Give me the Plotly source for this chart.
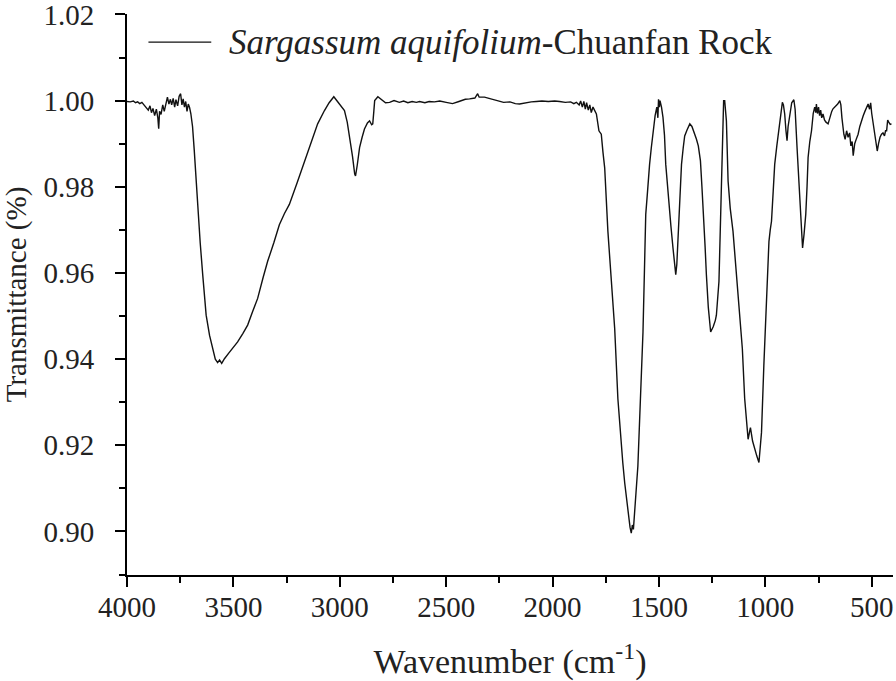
"""
FTIR spectrum of Sargassum aquifolium (Chuanfan Rock)
"""

import plotly.graph_objs as go

# wavenumber (cm-1)
wavenumber = [
    4000, 3985, 3970, 3960, 3950, 3940, 3930, 3920, 3910, 3900, 3892, 3885, 3878, 3870, 3862,
    3855, 3851, 3847, 3840, 3832, 3825, 3818, 3810, 3803, 3796, 3790, 3783, 3776, 3770, 3762,
    3755, 3748, 3742, 3736, 3730, 3724, 3718, 3712, 3706, 3700, 3692, 3684, 3676, 3668, 3656,
    3644, 3636, 3628, 3612, 3597, 3585, 3574, 3565, 3555, 3542, 3520, 3500, 3480, 3455, 3433,
    3410, 3386, 3360, 3339, 3310, 3284, 3260, 3237, 3200, 3166, 3135, 3104, 3072, 3050, 3028,
    3005, 2978, 2965, 2955, 2940, 2930, 2926, 2918, 2907, 2895, 2884, 2870, 2860, 2850, 2845,
    2840, 2836, 2821, 2800, 2785, 2766, 2745, 2720, 2700, 2680, 2660, 2640, 2625, 2600, 2580,
    2555, 2530, 2500, 2470, 2440, 2410, 2390, 2365, 2352, 2345, 2320, 2300, 2281, 2260, 2230,
    2200, 2175, 2155, 2130, 2100, 2076, 2050, 2020, 1990, 1967, 1940, 1915, 1900, 1888, 1875,
    1868, 1860, 1853, 1846, 1840, 1832, 1825, 1818, 1810, 1802, 1794, 1782, 1771, 1763, 1755,
    1740, 1724, 1708, 1693, 1685, 1677, 1670, 1661, 1654, 1646, 1640, 1636, 1630, 1625, 1620,
    1614, 1606, 1599, 1587, 1575, 1568, 1562, 1555, 1548, 1544, 1536, 1528, 1518, 1510, 1505,
    1502, 1498, 1495, 1488, 1481, 1474, 1468, 1460, 1453, 1444, 1434, 1428, 1421, 1416, 1410,
    1402, 1394, 1386, 1379, 1368, 1355, 1345, 1335, 1324, 1315, 1305, 1298, 1290, 1283, 1277,
    1268, 1257, 1245, 1235, 1230, 1218, 1212, 1206, 1200, 1196, 1191, 1186, 1183, 1175, 1165,
    1152, 1140, 1128, 1118, 1108, 1097, 1090, 1081, 1074, 1070, 1060, 1050, 1040, 1030, 1024,
    1018, 1007, 995, 983, 977, 971, 963, 956, 946, 936, 928, 920, 915, 909, 903,
    898, 893, 885, 876, 866, 860, 851, 844, 838, 831, 825, 818, 810, 804, 799,
    791, 783, 775, 768, 763, 760, 755, 750, 745, 740, 735, 729, 722, 715, 705,
    695, 688, 682, 672, 660, 650, 645, 640, 636, 631, 625, 618, 611, 604, 598,
    592, 587, 580, 573, 564, 556, 548, 540, 532, 525, 517, 510, 505, 500, 495,
    490, 485, 480, 474, 468, 461, 454, 447, 440, 435, 430, 425, 420, 413, 407,
]

transmittance = [
    0.9998, 0.9997, 0.9999, 0.9995, 0.9997, 0.9993, 0.9996, 0.9990, 0.9985, 0.9978, 0.9988, 0.9972, 0.9982, 0.9965, 0.9980,
    0.9960, 0.9935, 0.9975, 0.9968, 0.9990, 0.9975, 0.9995, 1.0008, 0.9992, 1.0003, 0.9990, 1.0005, 0.9985, 1.0002, 0.9988,
    1.0010, 1.0016, 0.9990, 1.0004, 0.9985, 0.9998, 0.9975, 0.9992, 0.9984, 0.9970, 0.9940, 0.9885, 0.9820, 0.9751, 0.9670,
    0.9595, 0.9545, 0.9502, 0.9455, 0.9424, 0.9400, 0.9392, 0.9398, 0.9390, 0.9401, 0.9415, 0.9428, 0.9440, 0.9460, 0.9479,
    0.9510, 0.9541, 0.9590, 0.9627, 0.9670, 0.9712, 0.9738, 0.9759, 0.9810, 0.9860, 0.9905, 0.9946, 0.9977, 0.9995, 1.0009,
    0.9995, 0.9977, 0.9950, 0.9922, 0.9870, 0.9830, 0.9825, 0.9850, 0.9891, 0.9915, 0.9934, 0.9948, 0.9953, 0.9944, 0.9946,
    0.9975, 1.0000, 1.0009, 1.0002, 0.9995, 0.9996, 1.0000, 0.9996, 0.9999, 0.9995, 0.9998, 0.9996, 0.9998, 0.9995, 0.9998,
    0.9997, 0.9999, 0.9996, 0.9993, 0.9998, 1.0003, 1.0004, 1.0006, 1.0016, 1.0008, 1.0008, 1.0005, 1.0003, 0.9999, 0.9996,
    0.9997, 0.9993, 0.9992, 0.9995, 0.9997, 0.9998, 0.9999, 0.9998, 0.9999, 0.9998, 0.9996, 0.9997, 0.9993, 0.9996, 0.9990,
    0.9999, 0.9985, 0.9998, 0.9980, 0.9995, 0.9978, 0.9990, 0.9972, 0.9985, 0.9975, 0.9969, 0.9930, 0.9922, 0.9880, 0.9844,
    0.9697, 0.9580, 0.9471, 0.9308, 0.9250, 0.9191, 0.9160, 0.9113, 0.9080, 0.9051, 0.9030, 0.9010, 0.8996, 0.9015, 0.9005,
    0.9043, 0.9100, 0.9152, 0.9308, 0.9463, 0.9610, 0.9736, 0.9780, 0.9830, 0.9852, 0.9890, 0.9930, 0.9965, 0.9985, 0.9960,
    1.0003, 0.9985, 1.0000, 0.9985, 0.9961, 0.9920, 0.9852, 0.9800, 0.9751, 0.9710, 0.9658, 0.9625, 0.9596, 0.9620, 0.9681,
    0.9770, 0.9852, 0.9890, 0.9918, 0.9932, 0.9946, 0.9940, 0.9928, 0.9911, 0.9895, 0.9860, 0.9800, 0.9736, 0.9660, 0.9596,
    0.9520, 0.9463, 0.9475, 0.9490, 0.9502, 0.9580, 0.9680, 0.9774, 0.9900, 1.0000, 1.0000, 0.9970, 0.9953, 0.9813, 0.9750,
    0.9697, 0.9620, 0.9541, 0.9480, 0.9424, 0.9308, 0.9260, 0.9214, 0.9232, 0.9241, 0.9210, 0.9191, 0.9175, 0.9160, 0.9190,
    0.9230, 0.9385, 0.9541, 0.9673, 0.9700, 0.9720, 0.9790, 0.9852, 0.9895, 0.9930, 0.9965, 0.9996, 0.9990, 0.9969, 0.9930,
    0.9907, 0.9940, 0.9969, 0.9995, 1.0002, 0.9980, 0.9891, 0.9830, 0.9774, 0.9710, 0.9658, 0.9690, 0.9736, 0.9800, 0.9868,
    0.9905, 0.9930, 0.9970, 0.9985, 0.9972, 0.9992, 0.9970, 0.9985, 0.9965, 0.9978, 0.9960, 0.9969, 0.9955, 0.9950, 0.9946,
    0.9965, 0.9975, 0.9981, 0.9985, 0.9992, 1.0000, 0.9990, 0.9960, 0.9935, 0.9922, 0.9910, 0.9930, 0.9915, 0.9925, 0.9895,
    0.9905, 0.9872, 0.9900, 0.9910, 0.9922, 0.9940, 0.9955, 0.9965, 0.9975, 0.9985, 0.9992, 0.9980, 0.9995, 0.9970, 0.9955,
    0.9940, 0.9925, 0.9910, 0.9883, 0.9900, 0.9915, 0.9922, 0.9925, 0.9918, 0.9930, 0.9930, 0.9955, 0.9950, 0.9945, 0.9946,
]

x_ticks = [4000, 3500, 3000, 2500, 2000, 1500, 1000, 500]
y_ticks = [0.90, 0.92, 0.94, 0.96, 0.98, 1.00, 1.02]

FONT = "Liberation Serif"
TEXT_COLOR = "#222222"

trace = go.Scatter(
    x=wavenumber,
    y=transmittance,
    mode="lines",
    line={"color": "#111111", "width": 1.4},
    showlegend=False,
)

axis_common = {
    "automargin": False,
    "showgrid": False,
    "zeroline": False,
    "showline": True,
    "linecolor": "black",
    "linewidth": 2,
    "ticks": "outside",
    "ticklen": 10,
    "tickwidth": 2,
    "tickcolor": "black",
    "ticklabeloverflow": "allow",
    "tickfont": {"family": FONT, "size": 29, "color": TEXT_COLOR},
}

layout = go.Layout(
    width=896,
    height=681,
    margin={"l": 127, "r": 3, "t": 14, "b": 106},
    paper_bgcolor="white",
    plot_bgcolor="white",
    font={"family": FONT},
    xaxis={
        **axis_common,
        "range": [4000, 400],
        "tickvals": x_ticks,
        "ticktext": [str(v) for v in x_ticks],
        "minor": {"dtick": 250, "tick0": 0, "ticks": "outside", "ticklen": 6, "tickwidth": 2, "tickcolor": "black"},
        "title": {"text": "Wavenumber (cm<sup>-1</sup>)", "standoff": 33,
                  "font": {"family": FONT, "size": 34, "color": TEXT_COLOR}},
        "ticklabelstandoff": -5,
    },
    yaxis={
        **axis_common,
        # tiny pad on the top so the 1.02 tick is not dropped by rounding
        "range": [0.8899, 1.0201],
        "tickvals": y_ticks,
        "ticktext": [f"{v:.2f}" for v in y_ticks],
        "minor": {"dtick": 0.01, "tick0": 0.89, "ticks": "outside", "ticklen": 6, "tickwidth": 2, "tickcolor": "black"},
        "title": {"text": "Transmittance (%)",
                  "font": {"family": FONT, "size": 29, "color": TEXT_COLOR}},
        "ticklabelstandoff": 15,
    },
)

fig = go.Figure(data=[trace], layout=layout)

# legend drawn by hand so the sample line length matches the original
fig.add_shape(
    type="line", xref="paper", yref="paper",
    x0=0.028, x1=0.11, y0=0.95, y1=0.95,
    line={"color": "#111111", "width": 1.3},
)
fig.add_annotation(
    xref="paper", yref="paper", x=0.13, y=0.95,
    xanchor="left", yanchor="middle", showarrow=False,
    text="<i>Sargassum aquifolium</i>-Chuanfan Rock",
    font={"family": FONT, "size": 35, "color": TEXT_COLOR},
)

# drop the browser's default body margin so the 896x681 figure fills the window
fig.write_html(
    "out.html",
    config={"displayModeBar": False},
    post_script="document.body.style.margin = '0';",
)
